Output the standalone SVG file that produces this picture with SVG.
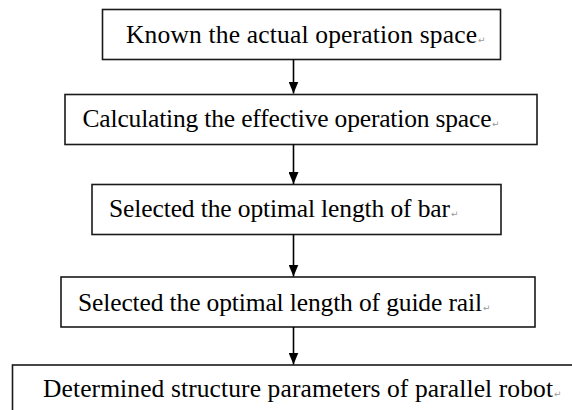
<svg xmlns="http://www.w3.org/2000/svg" width="572" height="410" viewBox="0 0 572 410">
<defs>
<style>
.box{fill:#fff;stroke:#1a1a1a;stroke-width:1.6}
.t{font-family:"Liberation Serif","Times New Roman",serif;font-size:25.5px;fill:#000}
.pm{font-family:"DejaVu Sans",sans-serif;font-size:9px;fill:#999}
.c{stroke:#000;stroke-width:1.6;fill:none}
</style>
<marker id="ah" viewBox="0 0 12 10" refX="12" refY="5" markerWidth="12" markerHeight="10" markerUnits="userSpaceOnUse" orient="auto">
<path d="M0,0 L12,5 L0,10 Z" fill="#000"/>
</marker>
</defs>
<rect width="572" height="410" fill="#fff"/>
<g id="n1"><rect class="box" x="102.5" y="9.5" width="398" height="50"/><text class="t" x="126" y="42.5" textLength="351">Known the actual operation space</text><text class="pm" x="478" y="42.5">↵</text></g>
<g id="n2"><rect class="box" x="65" y="94.5" width="472" height="50"/><text class="t" x="82.5" y="126.5" textLength="409">Calculating the effective operation space</text><text class="pm" x="492" y="126.5">↵</text></g>
<g id="n3"><rect class="box" x="92" y="184.5" width="409" height="50"/><text class="t" x="109" y="217" textLength="341">Selected the optimal length of bar</text><text class="pm" x="451" y="217">↵</text></g>
<g id="n4"><rect class="box" x="61" y="277" width="474" height="50"/><text class="t" x="78" y="310.5" textLength="404">Selected the optimal length of guide rail</text><text class="pm" x="483" y="310.5">↵</text></g>
<g id="n5"><rect class="box" x="12.5" y="365" width="600" height="60"/><text class="t" x="43" y="397" textLength="510">Determined structure parameters of parallel robot</text><text class="pm" x="554" y="397">↵</text></g>
<g id="connectors">
<line class="c" x1="293.5" y1="59.5" x2="293.5" y2="93.5" marker-end="url(#ah)"/>
<line class="c" x1="293.5" y1="144.5" x2="293.5" y2="184" marker-end="url(#ah)"/>
<line class="c" x1="293.5" y1="234.5" x2="293.5" y2="276.5" marker-end="url(#ah)"/>
<line class="c" x1="293.5" y1="327" x2="293.5" y2="364.5" marker-end="url(#ah)"/>
</g>
</svg>
